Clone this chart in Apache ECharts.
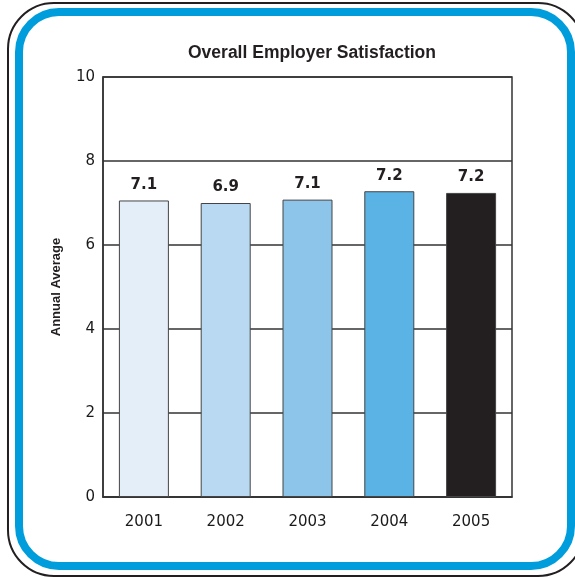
<!DOCTYPE html>
<html>
<head>
<meta charset="utf-8">
<script src="https://cdn.jsdelivr.net/npm/echarts@6/dist/echarts.min.js"></script>
<style>
html,body{margin:0;padding:0;background:#fff;}
#c{width:575px;height:577px;}
</style>
</head>
<body>
<div id="c"></div>
<script>
var titleText = 'Overall Employer Satisfaction';
var yAxisName = 'Annual Average';
var categories = ['2001', '2002', '2003', '2004', '2005'];
var values = [7.06, 7.0, 7.08, 7.28, 7.24];
var valueLabels = ['7.1', '6.9', '7.1', '7.2', '7.2'];
var barColors = ['#e3eef9', '#b8d9f1', '#8dc4ea', '#5ab2e5', '#231f20'];
var yTicks = [0, 2, 4, 6, 8, 10];

var chart = echarts.init(document.getElementById('c'));
var lineCol = '#333333';
chart.setOption({
  animation: false,
  backgroundColor: '#ffffff',
  title: {
    text: titleText,
    left: 307, top: 39, textAlign: 'center',
    textStyle: {fontFamily: 'Liberation Sans, Arial, sans-serif', fontWeight: 'bold', fontSize: 17.5, color: '#231f20'}
  },
  grid: {left: 103, right: 63, top: 77, bottom: 80, show: true, borderColor: lineCol, borderWidth: 1.5, backgroundColor: 'transparent'},
  xAxis: {
    type: 'category', data: categories,
    axisLine: {show: true, lineStyle: {color: lineCol, width: 1.5}},
    axisTick: {show: false},
    axisLabel: {color: '#1a1a1a', fontFamily: 'DejaVu Sans', fontSize: 15, margin: 18}
  },
  yAxis: {
    type: 'value', min: 0, max: 10, interval: 2,
    name: yAxisName, nameLocation: 'middle', nameGap: 40, nameRotate: 90,
    nameTextStyle: {fontFamily: 'Liberation Sans, Arial, sans-serif', fontWeight: 'bold', fontSize: 13, color: '#231f20'},
    axisLine: {show: true, lineStyle: {color: lineCol, width: 1.5}},
    axisTick: {show: false},
    axisLabel: {color: '#1a1a1a', fontFamily: 'DejaVu Sans', fontSize: 15, margin: 8,
      formatter: function (v) { return yTicks.indexOf(v) >= 0 ? String(v) : ''; }},
    splitLine: {show: true, lineStyle: {color: lineCol, width: 1.5}}
  },
  series: [{
    type: 'bar',
    barWidth: 50,
    data: values.map(function (v, i) {
      return {value: v, itemStyle: {color: barColors[i], borderColor: '#444444', borderWidth: 1}};
    }),
    label: {
      show: true, position: 'top', distance: 8,
      fontFamily: 'DejaVu Sans', fontSize: 15, fontWeight: 'bold', color: '#231f20',
      formatter: function (p) { return valueLabels[p.dataIndex]; }
    }
  }],
  graphic: [
    {type: 'rect', shape: {x: 8, y: 3, width: 576, height: 573, r: 46}, style: {fill: 'none', stroke: '#231f20', lineWidth: 2}, silent: true, z: 100},
    {type: 'rect', shape: {x: 19, y: 12, width: 552, height: 554, r: 40}, style: {fill: 'none', stroke: '#009ddc', lineWidth: 8}, silent: true, z: 100}
  ]
});
</script>
</body>
</html>
